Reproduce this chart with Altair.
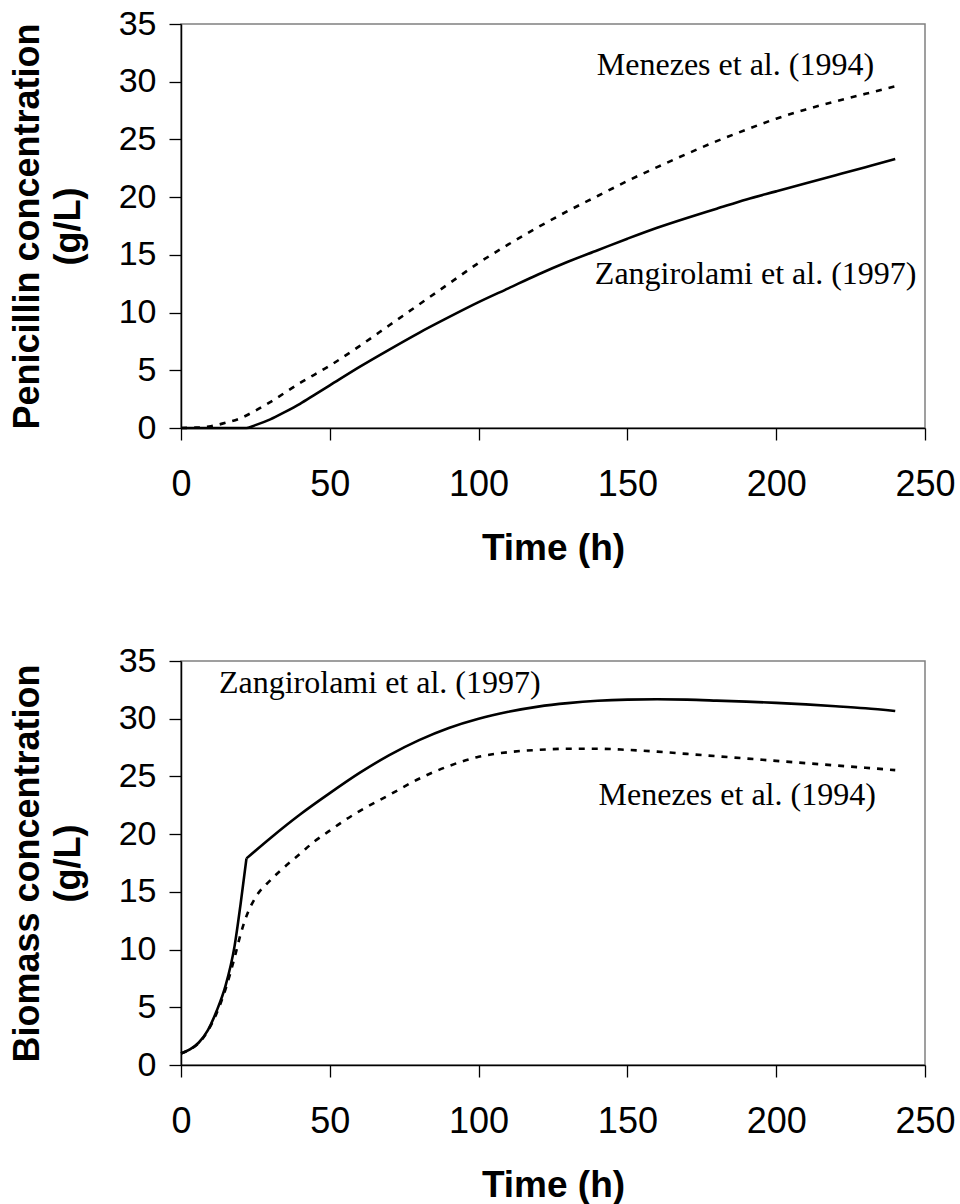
import altair as alt
import pandas as pd

# ---------------- data ----------------
# Top panel: penicillin concentration (g/L) vs time (h)
pen_zang_time = [0, 10, 20, 22, 25, 30, 35, 40, 45, 50, 60, 70, 80, 90, 100, 110, 120,
                 130, 140, 150, 160, 170, 180, 190, 200, 210, 220, 230, 240]
pen_zang_value = [0, 0, 0, 0.0, 0.25, 0.75, 1.4, 2.1, 2.9, 3.7, 5.3, 6.8, 8.25, 9.6, 10.9,
                  12.1, 13.3, 14.4, 15.4, 16.4, 17.35, 18.2, 19.0, 19.8, 20.5, 21.2, 21.9,
                  22.6, 23.3]

pen_men_time = [0, 5, 10, 15, 20, 25, 30, 40, 50, 60, 70, 80, 90, 100, 110, 120, 130,
                140, 150, 160, 170, 180, 190, 200, 210, 220, 230, 240]
pen_men_value = [0, 0.03, 0.15, 0.45, 0.85, 1.5, 2.25, 3.9, 5.4, 7.1, 8.9, 10.7, 12.5, 14.3,
                 15.9, 17.4, 18.8, 20.1, 21.4, 22.6, 23.75, 24.85, 25.85, 26.8, 27.6, 28.3,
                 28.95, 29.6]

# Bottom panel: biomass concentration (g/L) vs time (h)
bio_zang_time = [0, 3, 6, 9, 12, 15, 18, 20, 22, 30, 40, 50, 60, 70, 80, 90, 100, 110, 120,
                 130, 140, 150, 160, 170, 180, 190, 200, 210, 220, 230, 240]
bio_zang_value = [1.0, 1.35, 1.95, 3.0, 4.7, 6.9, 10.3, 13.9, 17.9, 19.65, 21.7, 23.55, 25.3,
                  26.85, 28.15, 29.2, 30.0, 30.6, 31.05, 31.35, 31.55, 31.65, 31.68, 31.65,
                  31.57, 31.48, 31.37, 31.24, 31.08, 30.9, 30.67]

bio_men_time = [0, 3, 6, 9, 12, 15, 18, 20, 22, 25, 30, 35, 40, 45, 50, 55, 60, 70, 80, 90,
                100, 110, 120, 130, 140, 150, 160, 170, 180, 190, 200, 210, 220, 230, 240]
bio_men_value = [1.0, 1.35, 1.9, 2.95, 4.5, 6.6, 9.3, 11.3, 12.9, 14.5, 16.0, 17.2, 18.3, 19.4,
                 20.3, 21.2, 22.0, 23.4, 24.8, 25.9, 26.7, 27.1, 27.3, 27.4, 27.4, 27.3, 27.15,
                 26.95, 26.75, 26.55, 26.35, 26.15, 25.95, 25.75, 25.55]

x_ticks = [0, 50, 100, 150, 200, 250]
y_ticks = [0, 5, 10, 15, 20, 25, 30, 35]

label_text = ["Menezes et al. (1994)", "Zangirolami et al. (1997)"]
pen_label_time = [186.3, 193.1]
pen_label_value = [30.6, 12.5]
bio_label_time = [186.9, 66.8]
bio_label_value = [22.5, 32.2]

# Time at which the Zangirolami biomass curve has a sharp corner
bio_zang_kink = 22

# ---------------- chart ----------------
W, H = 744, 404
SANS = "Liberation Sans"
SERIF = "Liberation Serif"


def x_enc():
    return alt.X(
        "time:Q",
        scale=alt.Scale(domain=[0, 250], nice=False, zero=False),
        axis=alt.Axis(
            values=x_ticks, title="Time (h)", format="d",
            labelFontSize=36, labelPadding=27, labelFlush=False, labelOverlap=False,
            titleFontSize=37, titleY=102, titleX=W / 2, titleBaseline="top",
        ),
    )


def y_enc(title):
    return alt.Y(
        "value:Q",
        scale=alt.Scale(domain=[0, 35], nice=False, zero=False),
        axis=alt.Axis(
            values=y_ticks, title=title, format="d",
            labelFontSize=34, labelPadding=13, labelOverlap=False,
            titleFontSize=36, titleX=-135, titleY=H / 2, titleAngle=270,
            titleBaseline="bottom", titleAlign="center", titleLineHeight=41,
        ),
    )


def line(df, title, dashed=False):
    kw = dict(color="black", strokeWidth=2.6, interpolate="monotone")
    if dashed:
        kw["strokeDash"] = [6, 7]
    return alt.Chart(df).mark_line(**kw).encode(x=x_enc(), y=y_enc(title))


def panel(solid_parts, dashed_df, lt, lv, title):
    dl = pd.DataFrame({"time": lt, "value": lv, "label": label_text})
    layers = [line(p, title) for p in solid_parts]
    layers.append(line(dashed_df, title, dashed=True))
    layers.append(
        alt.Chart(dl).mark_text(font=SERIF, fontSize=32, color="black",
                                align="center", baseline="alphabetic").encode(
            x=x_enc(), y=y_enc(title), text="label:N")
    )
    return alt.layer(*layers).properties(width=W, height=H)


pen_z = pd.DataFrame({"time": pen_zang_time, "value": pen_zang_value})
pen_m = pd.DataFrame({"time": pen_men_time, "value": pen_men_value})
bio_z = pd.DataFrame({"time": bio_zang_time, "value": bio_zang_value})
bio_m = pd.DataFrame({"time": bio_men_time, "value": bio_men_value})
bio_z_a = bio_z[bio_z["time"] <= bio_zang_kink]
bio_z_b = bio_z[bio_z["time"] >= bio_zang_kink]

top = panel([pen_z], pen_m, pen_label_time, pen_label_value,
            ["Penicillin concentration", "(g/L)"])
bottom = panel([bio_z_a, bio_z_b], bio_m, bio_label_time, bio_label_value,
               ["Biomass concentration", "(g/L)"])

chart = alt.vconcat(top, bottom, spacing=233, bounds="flush").properties(
    padding={"left": 8, "top": 6, "right": 0, "bottom": 0},
    background="white",
).configure_view(
    stroke="#808080", strokeWidth=1.5,
).configure_axis(
    grid=False, domainColor="black", domainWidth=1.5, tickColor="black",
    tickWidth=1.3, tickSize=12, labelColor="black", titleColor="black",
    labelFont=SANS, titleFont=SANS, titleFontWeight="bold", zindex=1,
)

chart.save("out.html", embed_options={"renderer": "svg", "actions": False})
